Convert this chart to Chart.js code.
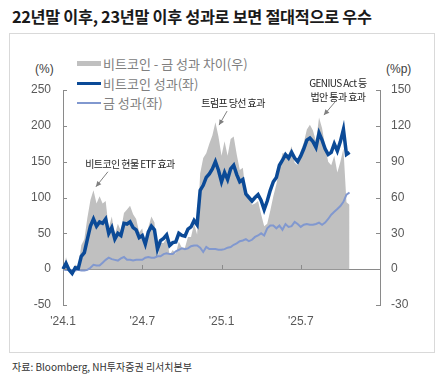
<!DOCTYPE html>
<html>
<head>
<meta charset="utf-8">
<script src="https://cdn.jsdelivr.net/npm/chart.js@4.4.1/dist/chart.umd.min.js"></script>
<style>
    html, body { margin: 0; padding: 0; background: #fff; }
    body { width: 443px; height: 380px; position: relative; overflow: hidden; font-family: "Noto Sans CJK KR", "Noto Sans", sans-serif; }
    #title { position: absolute; left: 12px; top: 4px; font-size: 16.3px; font-weight: 700; color: #1a1a1a; letter-spacing: -0.3px; white-space: nowrap; }
    #frame { position: absolute; left: 9px; top: 33px; width: 424px; height: 318px; border: 1px solid #d9d9d9; }
    #source { position: absolute; left: 12px; top: 359px; font-size: 10px; color: #333; white-space: nowrap; }
    .unit { position: absolute; top: 62px; font-family: "Liberation Sans", Arial, sans-serif; font-size: 12px; color: #404040; }
    #legend { position: absolute; left: 77px; top: 54px; font-size: 13px; color: #808080; }
    .row { height: 19.5px; display: flex; align-items: center; white-space: nowrap; }
    .sw { width: 24px; margin-right: 2px; }
    canvas { position: absolute; left: 0; top: 0; }
</style>
</head>
<body>
<div id="title">22년말 이후, 23년말 이후 성과로 보면 절대적으로 우수</div>
<div id="frame"></div>
<div class="unit" style="left:35px">(%)</div>
<div class="unit" style="left:386px">(%p)</div>
<div id="legend">
    <div class="row"><span class="sw" style="height:5px;background:#c0c0c0"></span>비트코인 - 금 성과 차이(우)</div>
    <div class="row"><span class="sw" style="height:3px;background:#0b4a97"></span>비트코인 성과(좌)</div>
    <div class="row"><span class="sw" style="height:2px;background:#8198cf"></span>금 성과(좌)</div>
</div>
<div id="source">자료: Bloomberg, NH투자증권 리서치본부</div>
<canvas id="chart" width="443" height="380"></canvas>

<script>
// 주간 데이터 (2024.1.1 기준 누적 성과, %)
const btcPerf = [
    0, 8, -1, -6, 2, 1, 18, 23, 42, 60,
    70, 60, 66, 64, 70, 50, 58, 42, 50, 47,
    64, 63, 66, 58, 55, 44, 47, 35, 52, 60,
    55, 28, 40, 43, 48, 33, 37, 38, 50, 47,
    46, 56, 59, 68, 62, 110, 117, 128, 133, 140,
    150, 138, 122, 135, 125, 140, 145, 132, 122, 125,
    105, 100, 95, 100, 104, 96, 83, 95, 110, 122,
    128, 145, 152, 160, 155, 163, 155, 150, 158, 168,
    180, 183, 178, 170, 190, 180, 168, 160, 163, 175,
    165, 178, 195, 160, 163
];

const goldPerf = [
    0, -1, -1, -2, -2, -1, -2, -2, -1, 2,
    6, 5, 5, 9, 13, 16, 14, 13, 12, 15,
    17, 13, 13, 12, 13, 13, 13, 16, 17, 16,
    16, 18, 18, 21, 22, 21, 21, 25, 27, 29,
    28, 29, 32, 33, 33, 30, 24, 31, 28, 28,
    28, 27, 27, 28, 30, 31, 34, 36, 39, 40,
    42, 39, 41, 45, 47, 50, 47, 57, 61, 61,
    57, 61, 55, 63, 59, 60, 66, 63, 59, 62,
    63, 62, 62, 63, 65, 62, 65, 70, 76, 80,
    84, 88, 94, 104, 107
];

// 비트코인 - 금 성과 차이 (%p, 우축)
const perfGap = [
    0, 10, 0, -4, 4, 2, 20, 25, 43, 58,
    66, 55, 61, 55, 57, 34, 44, 29, 38, 32,
    47, 50, 53, 46, 42, 31, 34, 19, 35, 44,
    39, 10, 22, 22, 26, 12, 16, 13, 23, 18,
    18, 27, 27, 38, 29, 80, 93, 97, 105, 112,
    123, 111, 95, 107, 95, 109, 111, 96, 83, 85,
    63, 61, 54, 55, 57, 46, 36, 38, 49, 61,
    71, 84, 97, 97, 96, 103, 89, 87, 99, 106,
    117, 121, 116, 107, 127, 118, 103, 90, 87, 95,
    81, 90, 101, 56, 54
];

const tickWeeks = [0, 26, 52, 78];
const tickLabels = ["'24.1", "'24.7", "'25.1", "'25.7"];

// x축: 2024.1.1부터 2025.12.29까지 주 단위 카테고리
const weekLabels = [];
const start = new Date(2024, 0, 1);
for (let i = 0; i <= 104; i++) {
    const d = new Date(start.getTime() + i * 7 * 86400000);
    weekLabels.push(d.getFullYear() + '-' + (d.getMonth() + 1) + '-' + d.getDate());
}

const notes = [
    { lines: ['비트코인 현물 ETF 효과'], week: 10.8, value: 115, tail: [12, -15], text: [34, -23] },
    { lines: ['트럼프 당선 효과'], week: 51.2, value: 201, tail: [8, -14], text: [14, -22] },
    { lines: ['GENIUS Act 등', '법안 통과 효과'], week: 85.6, value: 215, tail: [11, -13], text: [14, -32] }
];

const axisColor = '#8a8a8a';
const tickFont = { family: '"Liberation Sans", Arial, sans-serif', size: 12 };

// 안쪽 눈금과 주석 화살표
const extrasPlugin = {
    id: 'extras',
    afterDatasetsDraw(chart) {
        const { ctx, chartArea, scales } = chart;
        ctx.save();
        ctx.strokeStyle = axisColor;
        ctx.lineWidth = 1;
        ctx.beginPath();
        scales.y.ticks.forEach(t => {
            const y = Math.round(scales.y.getPixelForValue(t.value)) + 0.5;
            ctx.moveTo(chartArea.left, y); ctx.lineTo(chartArea.left + 4, y);
        });
        scales.y1.ticks.forEach(t => {
            const y = Math.round(scales.y1.getPixelForValue(t.value)) + 0.5;
            ctx.moveTo(chartArea.right - 4, y); ctx.lineTo(chartArea.right, y);
        });
        const y0 = Math.round(scales.y.getPixelForValue(0));
        tickWeeks.slice(1).forEach(w => {
            const x = Math.round(scales.x.getPixelForValue(w)) + 0.5;
            ctx.moveTo(x, y0 - 4); ctx.lineTo(x, y0);
        });
        ctx.stroke();

        notes.forEach(n => {
            const tx = scales.x.getPixelForValue(n.week);
            const ty = scales.y.getPixelForValue(n.value);
            const sx = tx + n.tail[0], sy = ty + n.tail[1];
            ctx.strokeStyle = '#7f7f7f';
            ctx.fillStyle = '#7f7f7f';
            ctx.beginPath();
            ctx.moveTo(sx, sy); ctx.lineTo(tx, ty);
            ctx.stroke();
            const ang = Math.atan2(ty - sy, tx - sx);
            ctx.beginPath();
            ctx.moveTo(tx, ty);
            ctx.lineTo(tx - 6 * Math.cos(ang - 0.45), ty - 6 * Math.sin(ang - 0.45));
            ctx.lineTo(tx - 6 * Math.cos(ang + 0.45), ty - 6 * Math.sin(ang + 0.45));
            ctx.closePath();
            ctx.fill();

            ctx.fillStyle = '#262626';
            ctx.font = '10px "Noto Sans CJK KR", sans-serif';
            ctx.letterSpacing = '-0.6px';
            ctx.textAlign = 'center';
            ctx.textBaseline = 'middle';
            n.lines.forEach((line, k) => {
                ctx.fillText(line, tx + n.text[0], ty + n.text[1] + k * 14);
            });
        });
        ctx.restore();
    }
};

new Chart(document.getElementById('chart').getContext('2d'), {
    type: 'line',
    data: {
        labels: weekLabels,
        datasets: [
            {
                label: '비트코인 성과(좌)',
                data: btcPerf,
                yAxisID: 'y',
                borderColor: '#0b4a97',
                borderWidth: 3.5,
                pointRadius: 0,
                tension: 0,
                order: 1
            },
            {
                label: '금 성과(좌)',
                data: goldPerf,
                yAxisID: 'y',
                borderColor: '#8198cf',
                borderWidth: 2,
                pointRadius: 0,
                tension: 0,
                order: 2
            },
            {
                label: '비트코인 - 금 성과 차이(우)',
                data: perfGap,
                yAxisID: 'y1',
                borderWidth: 0,
                borderColor: 'rgba(0,0,0,0)',
                backgroundColor: '#c0c0c0',
                fill: 'origin',
                pointRadius: 0,
                tension: 0,
                order: 3
            }
        ]
    },
    options: {
        responsive: false,
        animation: false,
        events: [],
        layout: { padding: { top: 90, bottom: 0, left: 0, right: 0 } },
        plugins: {
            legend: { display: false },
            tooltip: { enabled: false }
        },
        scales: {
            x: {
                type: 'category',
                offset: false,
                grid: { display: false, drawTicks: false },
                border: { display: false },
                ticks: {
                    autoSkip: false,
                    maxRotation: 0,
                    padding: 9,
                    color: '#595959',
                    font: tickFont,
                    callback: (v, i) => {
                        const k = tickWeeks.indexOf(i);
                        return k >= 0 ? tickLabels[k] : null;
                    }
                },
                afterFit: s => { s.height = 75; }
            },
            y: {
                position: 'left',
                min: -50,
                max: 250,
                ticks: { stepSize: 50, padding: 12, color: '#595959', font: tickFont },
                grid: {
                    drawTicks: false,
                    color: c => (c.tick && c.tick.value === 0) ? axisColor : 'rgba(0,0,0,0)'
                },
                border: { display: true, color: axisColor, width: 1 },
                afterFit: s => { s.width = 63; }
            },
            y1: {
                position: 'right',
                min: -30,
                max: 150,
                ticks: { stepSize: 30, padding: 11, color: '#595959', font: tickFont },
                grid: { drawOnChartArea: false, drawTicks: false },
                border: { display: true, color: axisColor, width: 1 },
                afterFit: s => { s.width = 63; }
            }
        }
    },
    plugins: [extrasPlugin]
});
</script>
</body>
</html>
